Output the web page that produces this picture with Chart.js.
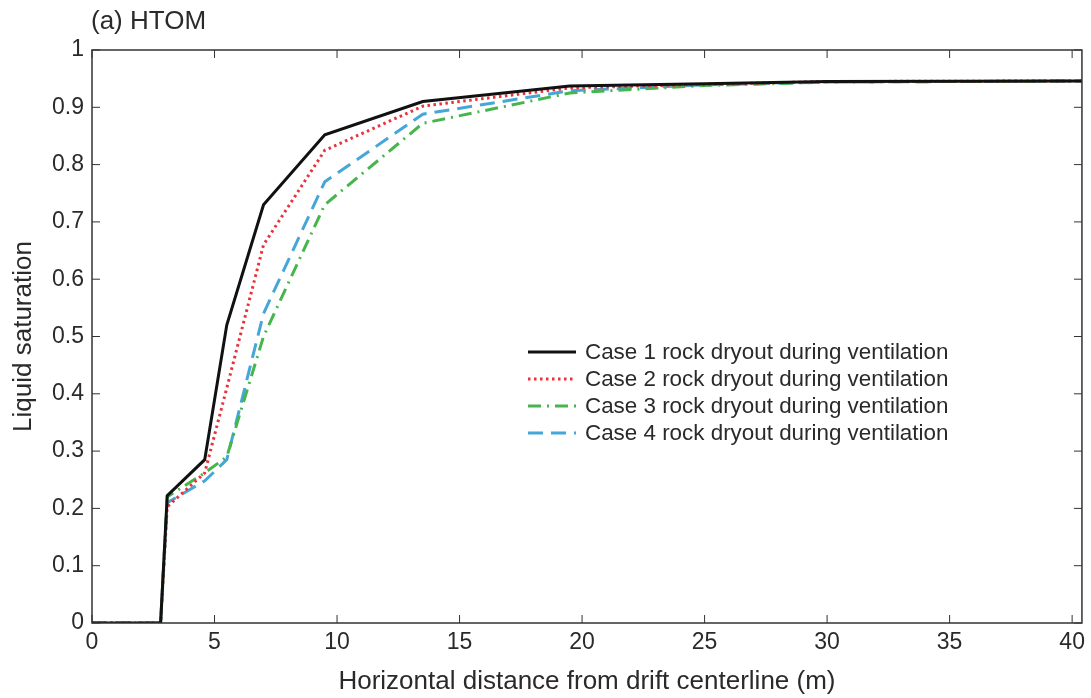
<!DOCTYPE html>
<html>
<head>
<meta charset="utf-8">
<script src="https://cdn.jsdelivr.net/npm/chart.js@4.4.1/dist/chart.umd.min.js"></script>
<style>
  html, body { margin: 0; padding: 0; background: #fff; }
  #wrap { width: 1091px; height: 698px; position: relative; }
</style>
</head>
<body>
<div id="wrap"><canvas id="chart"></canvas></div>
<script>
// distance from drift centerline (m)
var distancia = [0, 2.8, 3.07, 4.6, 5.5, 7.0, 9.5, 13.5, 19.5, 25, 30, 40.5];

var caso1 = [0, 0, 0.222, 0.285, 0.52, 0.73, 0.852, 0.910, 0.937, 0.941, 0.945, 0.946];
var caso2 = [0, 0, 0.203, 0.262, 0.41, 0.66, 0.825, 0.902, 0.934, 0.940, 0.945, 0.946];
var caso3 = [0, 0, 0.220, 0.262, 0.29, 0.50, 0.730, 0.872, 0.925, 0.938, 0.944, 0.946];
var caso4 = [0, 0, 0.210, 0.248, 0.285, 0.54, 0.770, 0.888, 0.929, 0.939, 0.944, 0.946];

var nomes = [
    'Case 1 rock dryout during ventilation',
    'Case 2 rock dryout during ventilation',
    'Case 3 rock dryout during ventilation',
    'Case 4 rock dryout during ventilation'
];

var xTicks = [0, 5, 10, 15, 20, 25, 30, 35, 40];
var yTicks = [0, 0.1, 0.2, 0.3, 0.4, 0.5, 0.6, 0.7, 0.8, 0.9, 1];

var fonte = '"Liberation Sans", Arial, Helvetica, sans-serif';
var corTexto = '#2a2a2a';

function pontos(ys) {
    var out = [];
    for (var i = 0; i < distancia.length; i++) out.push({ x: distancia[i], y: ys[i] });
    return out;
}

var estilos = [
    { cor: '#111111', dash: [], largura: 3 },
    { cor: '#e8313b', dash: [2.5, 3.5], largura: 3 },
    { cor: '#46b64c', dash: [13, 6, 2, 6], largura: 3 },
    { cor: '#46a6d8', dash: [15, 8], largura: 3 }
];

var series = [caso1, caso2, caso3, caso4];
var datasets = [];
for (var i = 0; i < series.length; i++) {
    datasets.push({
        label: nomes[i],
        data: pontos(series[i]),
        borderColor: estilos[i].cor,
        borderDash: estilos[i].dash,
        borderWidth: estilos[i].largura,
        pointRadius: 0,
        tension: 0,
        fill: false
    });
}

// frame with inward ticks, panel label and legend inside the plot
var moldura = {
    id: 'moldura',
    afterDraw: function(chart) {
        var ctx = chart.ctx;
        var a = chart.chartArea;
        var sx = chart.scales.x, sy = chart.scales.y;
        var tam = 8;
        ctx.save();
        ctx.strokeStyle = '#333';
        ctx.lineWidth = 1.5;
        ctx.strokeRect(a.left, a.top, a.right - a.left, a.bottom - a.top);
        ctx.lineWidth = 1;
        ctx.beginPath();
        for (var i = 0; i < xTicks.length; i++) {
            var px = sx.getPixelForValue(xTicks[i]);
            ctx.moveTo(px, a.bottom); ctx.lineTo(px, a.bottom - tam);
            ctx.moveTo(px, a.top); ctx.lineTo(px, a.top + tam);
        }
        for (var j = 0; j < yTicks.length; j++) {
            var py = sy.getPixelForValue(yTicks[j]);
            ctx.moveTo(a.left, py); ctx.lineTo(a.left + tam, py);
            ctx.moveTo(a.right, py); ctx.lineTo(a.right - tam, py);
        }
        ctx.stroke();

        ctx.fillStyle = corTexto;
        ctx.font = '26px ' + fonte;
        ctx.textBaseline = 'middle';
        ctx.textAlign = 'left';
        ctx.fillText('(a) HTOM', 91, 22);

        // legend
        ctx.font = '22.4px ' + fonte;
        var y0 = 352, passo = 27;
        for (var k = 0; k < datasets.length; k++) {
            var yy = y0 + k * passo;
            ctx.beginPath();
            ctx.strokeStyle = estilos[k].cor;
            ctx.lineWidth = estilos[k].largura;
            ctx.setLineDash(estilos[k].dash);
            ctx.moveTo(528, yy); ctx.lineTo(576, yy);
            ctx.stroke();
            ctx.setLineDash([]);
            ctx.fillStyle = corTexto;
            ctx.fillText(nomes[k], 585, yy + 1);
        }
        ctx.restore();
    }
};

new Chart(document.getElementById('chart'), {
    type: 'line',
    data: { datasets: datasets },
    options: {
        responsive: true,
        maintainAspectRatio: false,
        animation: false,
        layout: { padding: { left: 0, right: 7, top: 50, bottom: 0 } },
        plugins: {
            legend: { display: false },
            tooltip: { enabled: false }
        },
        scales: {
            x: {
                type: 'linear',
                min: 0, max: 40.4,
                afterBuildTicks: function(s) { s.ticks = xTicks.map(function(v) { return { value: v }; }); },
                afterFit: function(s) { s.height = 75; },
                grid: { display: false, drawTicks: false },
                border: { display: false },
                ticks: { color: corTexto, font: { family: fonte, size: 23 }, padding: 6 },
                title: { display: true, text: 'Horizontal distance from drift centerline (m)',
                         color: corTexto, font: { family: fonte, size: 26 }, padding: { top: 0, bottom: 1 } }
            },
            y: {
                min: 0, max: 1,
                afterBuildTicks: function(s) { s.ticks = yTicks.map(function(v) { return { value: v }; }); },
                afterFit: function(s) { s.width = 92; },
                grid: { display: false, drawTicks: false },
                border: { display: false },
                ticks: { color: corTexto, font: { family: fonte, size: 23 }, padding: 8,
                         callback: function(v) { return String(v); } },
                title: { display: true, text: 'Liquid saturation',
                         color: corTexto, font: { family: fonte, size: 26 }, padding: { top: 8, bottom: 0 } }
            }
        }
    },
    plugins: [moldura]
});
</script>
</body>
</html>
